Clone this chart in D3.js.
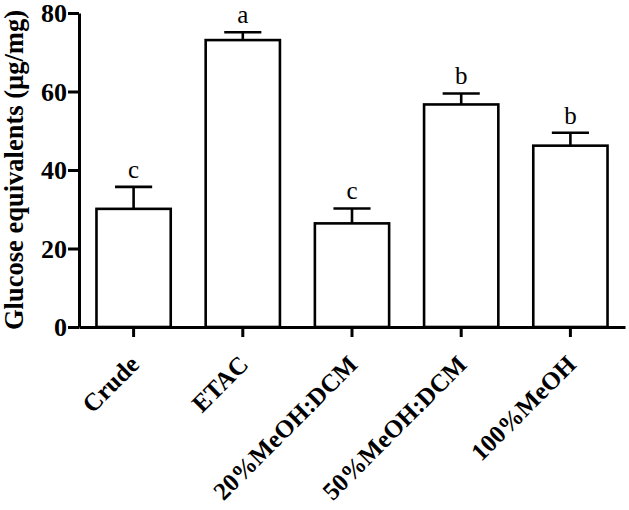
<!DOCTYPE html>
<html>
<head>
<meta charset="utf-8">
<script src="https://cdn.jsdelivr.net/npm/d3@7"></script>
<style>
  body { margin: 0; background: #fff; }
  svg { display: block; }
</style>
</head>
<body>
<svg id="chart" width="629" height="510"></svg>
<script>
const categories = ["Crude", "ETAC", "20%MeOH:DCM", "50%MeOH:DCM", "100%MeOH"];
const means = [30.1, 73.1, 26.4, 56.7, 46.2];
const errors = [5.6, 2.0, 3.8, 2.8, 3.3];
const letters = ["c", "a", "c", "b", "b"];
const yTicks = [0, 20, 40, 60, 80];
const yTitle = "Glucose equivalents (µg/mg)";

const svg = d3.select("#chart");
const margin = {left: 79, right: 4, top: 13, bottom: 183};
const W = 629, H = 510;

const x = d3.scaleBand().domain(categories)
  .range([margin.left, W - margin.right])
  .paddingInner(0.32).paddingOuter(0.16);
const y = d3.scaleLinear().domain([0, 80]).range([H - margin.bottom, margin.top]);

const serif = "'Liberation Serif', 'Times New Roman', serif";

// bars
const g = svg.append("g");
g.selectAll("rect.bar").data(categories).join("rect")
  .attr("class", "bar")
  .attr("x", d => x(d))
  .attr("y", (d, i) => y(means[i]))
  .attr("width", x.bandwidth())
  .attr("height", (d, i) => y(0) - y(means[i]))
  .attr("fill", "#fff").attr("stroke", "#000").attr("stroke-width", 2.6);

// error bars
const cx = d => x(d) + x.bandwidth() / 2;
const capHalf = x.bandwidth() / 4;
g.selectAll("line.err").data(categories).join("line")
  .attr("x1", cx).attr("x2", cx)
  .attr("y1", (d, i) => y(means[i]))
  .attr("y2", (d, i) => y(means[i] + errors[i]))
  .attr("stroke", "#000").attr("stroke-width", 2.6);
g.selectAll("line.cap").data(categories).join("line")
  .attr("x1", d => cx(d) - capHalf).attr("x2", d => cx(d) + capHalf)
  .attr("y1", (d, i) => y(means[i] + errors[i]))
  .attr("y2", (d, i) => y(means[i] + errors[i]))
  .attr("stroke", "#000").attr("stroke-width", 2.6);

// letters
g.selectAll("text.letter").data(categories).join("text")
  .attr("x", cx)
  .attr("y", (d, i) => y(means[i] + errors[i]) - 9)
  .attr("text-anchor", "middle")
  .attr("font-family", serif).attr("font-size", 25)
  .text((d, i) => letters[i]);

// y axis
const yAxis = svg.append("g")
  .attr("transform", `translate(${margin.left},0)`)
  .call(d3.axisLeft(y).tickValues(yTicks).tickSize(11).tickSizeOuter(0).tickPadding(1));
yAxis.select(".domain").attr("stroke-width", 3);
yAxis.selectAll(".tick line").attr("stroke-width", 3);
yAxis.selectAll(".tick text")
  .attr("font-family", serif).attr("font-weight", "bold").attr("font-size", 26)
  .attr("fill", "#000").attr("dy", "0.34em");

// x axis
const xAxis = svg.append("g")
  .attr("transform", `translate(0,${y(0)})`)
  .call(d3.axisBottom(x).tickSize(10).tickSizeOuter(0));
xAxis.select(".domain").attr("stroke-width", 3);
xAxis.selectAll(".tick line").attr("stroke-width", 3);
xAxis.selectAll(".tick text")
  .attr("font-family", serif).attr("font-weight", "bold").attr("font-size", 25)
  .attr("fill", "#000")
  .attr("text-anchor", "end")
  .attr("dy", 0)
  .attr("y", 0)
  .attr("transform", "translate(7,39) rotate(-45)");

// y title
svg.append("text")
  .attr("transform", `translate(23,${(y(0) + y(80)) / 2}) rotate(-90)`)
  .attr("text-anchor", "middle")
  .attr("font-family", serif).attr("font-weight", "bold").attr("font-size", 26.5)
  .text(yTitle);
</script>
</body>
</html>
